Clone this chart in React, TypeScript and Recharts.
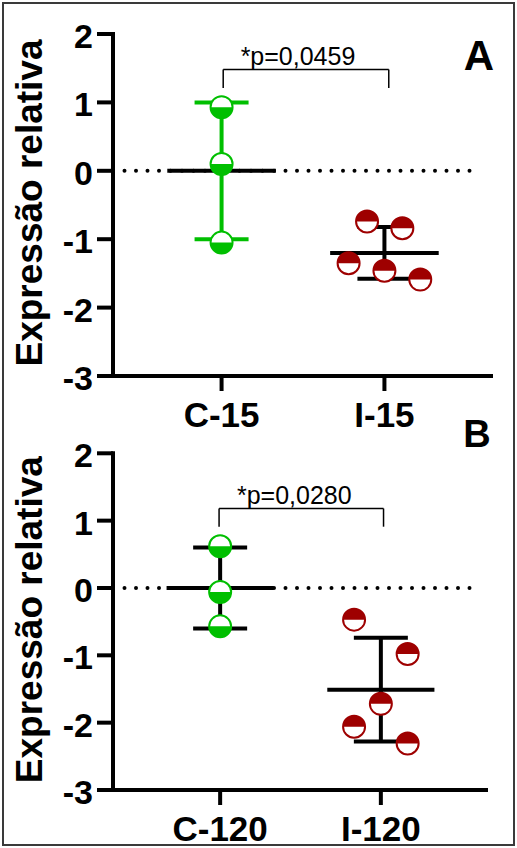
import React from "react";
import { ScatterChart, Scatter, XAxis, YAxis, ReferenceLine, ErrorBar } from "recharts";

const FONT = "'Liberation Sans', Arial, Helvetica, sans-serif";
const GREEN = "#00BF00";
const RED = "#9E0000";

// ─── Panel A ────────────────────────────────────────────────────────────────
const groupsA = ["C-15", "I-15"];
const c15Values = [0.93, 0.1, -1.05];
const c15Jitter = [0, 0, 0];
const i15Values = [-0.74, -0.84, -1.35, -1.46, -1.59];
const i15Jitter = [-0.32, 0.33, -0.66, 0, 0.66];
const meansA = [0, -1.2];
const sdA = [1.0, 0.38];
const pValueA = "*p=0,0459";

// ─── Panel B ────────────────────────────────────────────────────────────────
const groupsB = ["C-120", "I-120"];
const c120Values = [0.62, -0.06, -0.57];
const c120Jitter = [0, 0, 0];
const i120Values = [-0.47, -0.98, -1.72, -2.06, -2.31];
const i120Jitter = [-0.5, 0.5, 0, -0.5, 0.5];
const meansB = [0, -1.51];
const sdB = [0.6, 0.77];
const pValueB = "*p=0,0280";

const yTicks = [-3, -2, -1, 0, 1, 2];
const groupPositions = [2, 5];

// half filled circle marker
function HalfCircle(props: any) {
  const { cx, cy, color, filledTop } = props;
  if (cx == null || cy == null) return <g />;
  const r = 11;
  const d = filledTop
    ? `M${cx - r},${cy} A${r},${r} 0 0 1 ${cx + r},${cy} Z`
    : `M${cx - r},${cy} A${r},${r} 0 0 0 ${cx + r},${cy} Z`;
  return (
    <g>
      <circle cx={cx} cy={cy} r={r} fill="#fff" />
      <path d={d} fill={color} />
      <circle cx={cx} cy={cy} r={r} fill="none" stroke={color} strokeWidth={2} />
    </g>
  );
}

function renderYTitle(props: any) {
  const vb = props.viewBox || { x: 0, y: 0, width: 113, height: 340 };
  const x = vb.x + 42;
  const y = vb.y + vb.height / 2 - 2;
  return (
    <text
      x={x}
      y={y}
      transform={`rotate(-90 ${x} ${y})`}
      textAnchor="middle"
      fontSize={37}
      fontWeight={700}
      fontFamily={FONT}
      fill="#000"
    >
      Expressão relativa
    </text>
  );
}

interface PanelProps {
  groups: string[];
  ctrl: number[];
  ctrlJitter: number[];
  trt: number[];
  trtJitter: number[];
  means: number[];
  sds: number[];
  pValue: string;
  ctrlErrColor: string;
  bracket: { x1: number; x2: number; y: number; legY: number; dx: number };
  zeroEnd: number;
  height: number;
  marginTop: number;
  marginRight: number;
  xAxisHeight: number;
}

function Panel(p: PanelProps) {
  const ctrlData = p.ctrl.map((v, i) => ({ x: groupPositions[0] + p.ctrlJitter[i], y: v }));
  const trtData = p.trt.map((v, i) => ({ x: groupPositions[1] + p.trtJitter[i], y: v }));
  const errData = groupPositions.map((x, i) => [{ x, y: p.means[i], err: p.sds[i] }]);

  return (
    <ScatterChart
      width={517}
      height={p.height}
      margin={{ top: p.marginTop, right: p.marginRight, bottom: 0, left: 0 }}
    >
      <XAxis
        type="number"
        dataKey="x"
        domain={[0, 7]}
        ticks={groupPositions}
        interval={0}
        allowDataOverflow
        tickFormatter={(v: number) => p.groups[groupPositions.indexOf(v)] ?? ""}
        height={p.xAxisHeight}
        axisLine={{ stroke: "#000", strokeWidth: 4 }}
        tickLine={{ stroke: "#000", strokeWidth: 4 }}
        tickSize={15}
        tickMargin={11}
        tick={{ fontSize: 35, fontWeight: 700, fill: "#000", fontFamily: FONT }}
      />
      <YAxis
        type="number"
        dataKey="y"
        domain={[-3, 2]}
        ticks={yTicks}
        interval={0}
        allowDataOverflow
        width={113}
        axisLine={{ stroke: "#000", strokeWidth: 4, strokeLinecap: "square" }}
        tickLine={{ stroke: "#000", strokeWidth: 4 }}
        tickSize={16}
        tickMargin={4}
        tick={{ fontSize: 34, fontWeight: 700, fill: "#000", fontFamily: FONT, dy: 2 }}
        label={renderYTitle}
      />
      <ReferenceLine
        segment={[{ x: 0, y: 0 }, { x: p.zeroEnd, y: 0 }]}
        stroke="#000"
        strokeWidth={4}
        strokeDasharray="0 11.5"
        strokeLinecap="round"
      />
      {groupPositions.map((x, i) => (
        <ReferenceLine
          key={`mean-${i}`}
          segment={[{ x: x - 1, y: p.means[i] }, { x: x + 1, y: p.means[i] }]}
          stroke="#000"
          strokeWidth={4}
        />
      ))}
      <ReferenceLine
        segment={[{ x: p.bracket.x1, y: p.bracket.y }, { x: p.bracket.x2, y: p.bracket.y }]}
        stroke="#000"
        strokeWidth={1.5}
        label={{
          value: p.pValue,
          position: "top",
          offset: 5,
          dx: p.bracket.dx,
          fill: "#000",
          fontSize: 25,
          fontFamily: FONT,
        }}
      />
      <ReferenceLine
        segment={[{ x: p.bracket.x1, y: p.bracket.y }, { x: p.bracket.x1, y: p.bracket.legY }]}
        stroke="#000"
        strokeWidth={1.5}
      />
      <ReferenceLine
        segment={[{ x: p.bracket.x2, y: p.bracket.y }, { x: p.bracket.x2, y: p.bracket.legY }]}
        stroke="#000"
        strokeWidth={1.5}
      />
      <Scatter
        data={ctrlData}
        isAnimationActive={false}
        shape={(s: any) => <HalfCircle {...s} color={GREEN} filledTop={false} />}
      />
      <Scatter
        data={trtData}
        isAnimationActive={false}
        shape={(s: any) => <HalfCircle {...s} color={RED} filledTop={true} />}
      />
      {errData.map((d, i) => (
        <Scatter key={`err-${i}`} data={d} isAnimationActive={false} shape={() => <g />}>
          <ErrorBar
            dataKey="err"
            direction="y"
            width={27}
            stroke={i === 0 ? p.ctrlErrColor : "#000"}
            strokeWidth={4}
            isAnimationActive={false}
          />
        </Scatter>
      ))}
    </ScatterChart>
  );
}

export default function App() {
  return (
    <div
      style={{
        position: "absolute",
        left: 0,
        top: 0,
        width: 517,
        height: 848,
        background: "#fff",
        overflow: "hidden",
      }}
    >
      <div style={{ position: "absolute", left: 0, top: 0 }}>
        <Panel
          groups={groupsA}
          ctrl={c15Values}
          ctrlJitter={c15Jitter}
          trt={i15Values}
          trtJitter={i15Jitter}
          means={meansA}
          sds={sdA}
          pValue={pValueA}
          ctrlErrColor={GREEN}
          bracket={{ x1: 2.03, x2: 5.08, y: 1.48, legY: 1.21, dx: -8 }}
          zeroEnd={6.63}
          height={440}
          marginTop={34}
          marginRight={24}
          xAxisHeight={64}
        />
      </div>
      <div style={{ position: "absolute", left: 0, top: 410 }}>
        <Panel
          groups={groupsB}
          ctrl={c120Values}
          ctrlJitter={c120Jitter}
          trt={i120Values}
          trtJitter={i120Jitter}
          means={meansB}
          sds={sdB}
          pValue={pValueB}
          ctrlErrColor="#000"
          bracket={{ x1: 1.98, x2: 5.05, y: 1.18, legY: 0.91, dx: -7 }}
          zeroEnd={6.8}
          height={438}
          marginTop={43.3}
          marginRight={29}
          xAxisHeight={58}
        />
      </div>
      <svg
        width={517}
        height={848}
        style={{ position: "absolute", left: 0, top: 0, pointerEvents: "none" }}
      >
        <text x={479} y={70} textAnchor="middle" fontSize={42} fontWeight={700} fontFamily={FONT} fill="#000">
          A
        </text>
        <text x={477} y={447} textAnchor="middle" fontSize={38} fontWeight={700} fontFamily={FONT} fill="#000">
          B
        </text>
        <rect x={3} y={3} width={511} height={842} fill="none" stroke="#3a3a3a" strokeWidth={2} />
      </svg>
    </div>
  );
}
